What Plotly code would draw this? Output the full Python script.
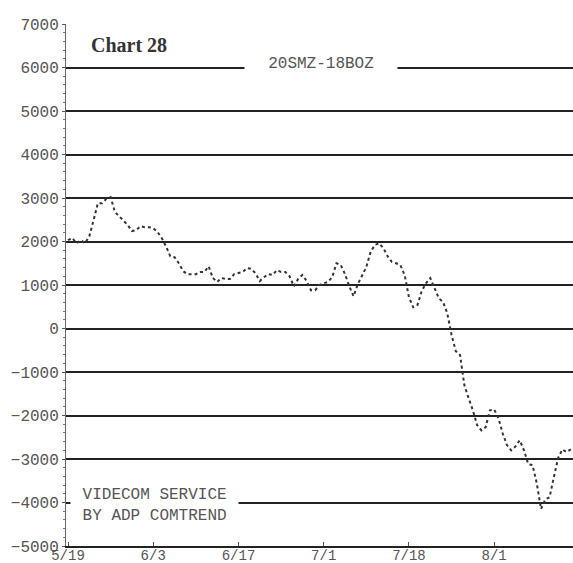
import plotly.graph_objects as go

# ---- data ----
tick_labels = ["5/19", "6/3", "6/17", "7/1", "7/18", "8/1"]
tick_positions = [0, 20, 40, 60, 80, 100]

spread_values = [
    2030, 2080, 1960, 2030, 1960, 2120, 2490, 2880, 2880, 2980,
    3020, 2680, 2580, 2490, 2380, 2240, 2260, 2350, 2330, 2330,
    2310, 2220, 2080, 1890, 1660, 1640, 1500, 1320, 1250, 1250,
    1250, 1300, 1300, 1430, 1160, 1070, 1160, 1140, 1140, 1250,
    1270, 1300, 1390, 1370, 1270, 1090, 1180, 1250, 1230, 1340,
    1300, 1300, 1200, 970, 1140, 1230, 1090, 880, 880, 1000,
    1040, 1070, 1180, 1500, 1460, 1250, 970, 740, 1020, 1230,
    1410, 1760, 1920, 1960, 1850, 1660, 1530, 1500, 1460, 1230,
    720, 490, 540, 860, 1040, 1160, 950, 700, 610, 350,
    -150, -520, -610, -1300, -1600, -1880, -2220, -2340, -2270, -1880,
    -1860, -2060, -2410, -2680, -2800, -2710, -2570, -2800, -3120, -3140,
    -3560, -4150, -3930, -3880, -3420, -2980, -2780, -2840, -2780,
]
days = list(range(len(spread_values)))

y_ticks = list(range(-5000, 7001, 1000))

MONO = "Liberation Mono, DejaVu Sans Mono, monospace"
TXT = "#555555"
INK = "#222222"
NB = "\u00a0"

fig = go.Figure()
fig.add_trace(go.Scatter(
    x=days, y=spread_values, mode="lines",
    line=dict(color="#333333", width=2, dash="dot"),
    hoverinfo="skip", showlegend=False,
))

fig.update_layout(
    width=573, height=563,
    margin=dict(l=66, r=0, t=24, b=17),
    paper_bgcolor="white", plot_bgcolor="white",
    showlegend=False,
    xaxis=dict(
        range=[-0.47, 118.5],
        automargin=False,
        tickvals=tick_positions, ticktext=tick_labels,
        showgrid=False, zeroline=False,
        showline=True, linecolor=INK, linewidth=1.5,
        ticks="inside", ticklen=4, tickcolor="#555",
        ticklabelstandoff=-5,
        tickfont=dict(family=MONO, size=14, color=TXT),
    ),
    yaxis=dict(
        range=[-5000, 7000],
        automargin=False,
        tickvals=y_ticks,
        showgrid=True, gridcolor=INK, gridwidth=1.6,
        zeroline=False,
        showline=True, linecolor="#666", linewidth=1,
        ticks="outside", ticklen=3, tickcolor="#555",
        minor=dict(dtick=200, ticks="outside", ticklen=2, tickcolor="#777"),
        tickfont=dict(family=MONO, size=16, color=TXT),
    ),
    annotations=[
        dict(xref="paper", yref="paper", x=(89 - 66) / 507, y=(546 - 45) / 522,
             xanchor="left", yanchor="middle", showarrow=False,
             text="<b>Chart 28</b>",
             font=dict(family="Liberation Serif, Times New Roman, serif", size=20, color="#333")),
        dict(xref="paper", yref="paper", x=(321 - 66) / 507, y=(546 - 64) / 522,
             xanchor="center", yanchor="middle", showarrow=False,
             text=NB * 2 + "20SMZ-18BOZ" + NB * 2,
             bgcolor="white", borderpad=4,
             font=dict(family=MONO, size=16, color=TXT)),
        dict(xref="paper", yref="paper", x=(70 - 66) / 507, y=(546 - 505) / 522,
             xanchor="left", yanchor="middle", showarrow=False, align="left",
             text=NB + "VIDECOM SERVICE" + NB + "<br>" + NB + "BY ADP COMTREND" + NB,
             bgcolor="white", borderpad=2,
             font=dict(family=MONO, size=16, color=TXT)),
    ],
)

fig.write_html(
    "out.html",
    config={"displayModeBar": False},
    post_script="document.body.style.margin='0';document.body.style.padding='0';",
)
